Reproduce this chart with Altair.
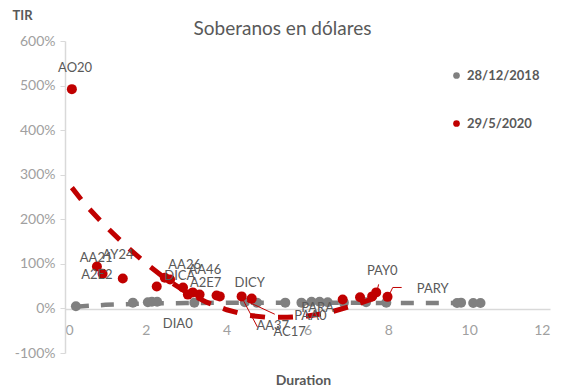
import altair as alt
import pandas as pd

# --- data ---
series_names = ["28/12/2018", "29/5/2020"]

# 28/12/2018 (gray) bonds: duration, TIR (%)
gray_dur = [0.27, 1.68, 2.05, 2.15, 2.28, 3.2, 4.45, 4.75, 5.45, 5.85, 6.1, 6.3, 6.5, 6.9, 7.45, 7.95, 9.7, 9.8, 10.1, 10.28]
gray_tir = [5, 13, 14, 15, 15, 13, 14, 13, 13, 13, 15, 15, 14, 13, 14, 13, 12, 13, 12, 12]

# 29/5/2020 (red) bonds
red_dur = [0.17, 0.79, 0.93, 1.43, 2.27, 2.47, 2.6, 2.92, 3.04, 3.16, 3.33, 3.75, 3.83, 4.37, 4.62, 6.87, 7.3, 7.6, 7.7, 7.98]
red_tir = [492, 94, 78, 67, 49, 69, 65, 47, 31, 36, 31, 29, 27, 27, 22, 20, 25, 27, 36, 26]

# trend lines
gray_trend_dur = [0.27, 1.0, 2.0, 3.0, 4.0, 5.0, 6.0, 7.0, 8.0, 9.0, 10.28]
gray_trend_tir = [4, 8, 11, 12, 13, 13, 13, 13, 12, 12, 12]
red_trend_dur = [0.17, 0.5, 1.0, 1.5, 2.0, 2.5, 3.0, 3.5, 4.0, 4.5, 5.0, 5.5, 6.0, 6.5, 7.0, 7.5, 7.9]
red_trend_tir = [271, 233, 185, 141, 101, 66, 37, 14, -3, -15, -20, -20, -17, -10, 3, 18, 31]

# bond labels (anchored in data units)
label_text = ["AO20", "AA21", "AY24", "A2E2", "AA26", "DICA", "AA46", "A2E7", "DIA0", "DICY", "AA37", "AC17", "PARA", "PAA0", "PAY0", "PARY"]
label_dur = [0.25, 0.77, 1.31, 0.79, 2.96, 2.84, 3.46, 3.48, 2.79, 4.57, 5.14, 5.56, 6.25, 6.07, 7.85, 9.1]
label_tir = [540, 114, 119, 74, 98, 72, 87, 58, -36, 58, -40, -54, 2, -18, 83, 43]

# leader lines
lead_x1 = [4.40, 4.50, 7.76, 8.33, 8.11]
lead_y1 = [20, 16, 54, 47, 47]
lead_x2 = [4.77, 5.19, 7.71, 8.11, 7.99]
lead_y2 = [-43, -13, 36, 47, 25]

x_ticks = [0, 2, 4, 6, 8, 10, 12]
y_ticks = [-100, 0, 100, 200, 300, 400, 500, 600]

GRAY = "#808080"
RED = "#C00000"
TXT = "#595959"
FONT = "Lato"

pts = pd.DataFrame({
    "dur": gray_dur + red_dur,
    "tir": gray_tir + red_tir,
    "serie": [series_names[0]] * len(gray_dur) + [series_names[1]] * len(red_dur),
})
gtrend = pd.DataFrame({"dur": gray_trend_dur, "tir": gray_trend_tir})
rtrend = pd.DataFrame({"dur": red_trend_dur, "tir": red_trend_tir})
labels = pd.DataFrame({"txt": label_text, "dur": label_dur, "tir": label_tir})
leads = pd.DataFrame({"x1": lead_x1, "y1": lead_y1, "x2": lead_x2, "y2": lead_y2})

xscale = alt.Scale(domain=[0, 12], nice=False, zero=False)
yscale = alt.Scale(domain=[-100, 600], nice=False)

xaxis = alt.Axis(
    values=x_ticks, offset=-44, ticks=False, grid=False,
    domainColor="#d9d9d9", domainWidth=1.5,
    labelColor="#a0a0a0", labelFontSize=14, labelFont=FONT, labelPadding=14,
    title="Duration", titleFont=FONT, titleFontSize=14, titleFontWeight="bold",
    titleColor=TXT, titleX=238, titleY=71, titleBaseline="middle",
)
yaxis = alt.Axis(
    values=y_ticks, grid=False, labelExpr="datum.value + '%'",
    domainColor="#d9d9d9", domainWidth=1.5, tickColor="#d9d9d9", tickSize=5,
    labelColor="#a0a0a0", labelFontSize=14, labelFont=FONT, labelPadding=5,
    title="TIR", titleAngle=0, titleFont=FONT, titleFontSize=13, titleFontWeight="bold",
    titleColor=TXT, titleX=-43, titleY=-26, titleAlign="center", titleBaseline="middle",
)

base_x = alt.X("dur:Q", scale=xscale, axis=xaxis)
base_y = alt.Y("tir:Q", scale=yscale, axis=yaxis)

points = alt.Chart(pts).mark_circle(size=100, opacity=1).encode(
    x=base_x, y=base_y,
    color=alt.Color("serie:N", scale=alt.Scale(domain=series_names, range=[GRAY, RED]),
                    legend=alt.Legend(orient="none", legendX=385, legendY=28, title=None,
                                      labelFont=FONT, labelFontSize=13, labelFontWeight="bold",
                                      labelColor=TXT, symbolSize=45, rowPadding=34,
                                      symbolType="circle")),
    order=alt.Order("serie:N"),
)

gline = alt.Chart(gtrend).mark_line(color=GRAY, strokeWidth=4.5, strokeDash=[13, 12]).encode(
    x=alt.X("dur:Q", scale=xscale), y=alt.Y("tir:Q", scale=yscale))
rline = alt.Chart(rtrend).mark_line(color=RED, strokeWidth=5, strokeDash=[15, 13]).encode(
    x=alt.X("dur:Q", scale=xscale), y=alt.Y("tir:Q", scale=yscale))

leaders = alt.Chart(leads).mark_rule(color=RED, strokeWidth=1).encode(
    x=alt.X("x1:Q", scale=xscale), y=alt.Y("y1:Q", scale=yscale),
    x2="x2:Q", y2="y2:Q")

texts = alt.Chart(labels).mark_text(font=FONT, fontSize=13, color=TXT, baseline="middle").encode(
    x=alt.X("dur:Q", scale=xscale), y=alt.Y("tir:Q", scale=yscale), text="txt:N")

chart = alt.layer(gline, points, rline, leaders, texts).properties(
    width=485, height=312,
    autosize=alt.AutoSizeParams(type="none"),
    padding={"left": 65, "top": 41, "right": 12, "bottom": 34},
    title=alt.TitleParams("Soberanos en dólares", font=FONT, fontSize=19, fontWeight="normal",
                          color=TXT, anchor="middle", dx=-25, dy=36, offset=6),
).configure_view(stroke=None)

chart.save("out.html", embed_options={"renderer": "svg", "actions": False})
